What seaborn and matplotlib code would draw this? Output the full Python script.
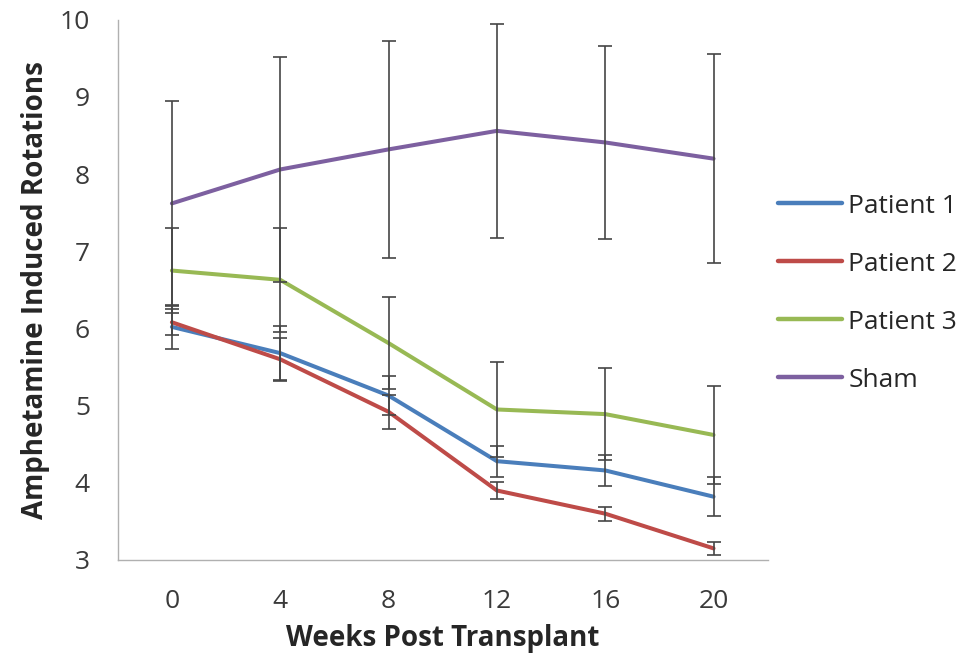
import numpy as np
import pandas as pd
import seaborn as sns
import matplotlib.pyplot as plt
from matplotlib.ticker import FixedLocator

weeks = ["0", "4", "8", "12", "16", "20"]
series = ["Patient 1", "Patient 2", "Patient 3", "Sham"]

patient1 = [6.02, 5.68, 5.13, 4.28, 4.16, 3.82]
patient2 = [6.08, 5.60, 4.92, 3.90, 3.60, 3.15]
patient3 = [6.75, 6.63, 5.81, 4.95, 4.89, 4.62]
sham = [7.62, 8.06, 8.32, 8.56, 8.41, 8.20]

patient1_err = [0.28, 0.35, 0.25, 0.20, 0.20, 0.25]
patient2_err = [0.17, 0.28, 0.22, 0.11, 0.09, 0.08]
patient3_err = [0.55, 0.67, 0.60, 0.61, 0.60, 0.63]
sham_err = [1.33, 1.46, 1.41, 1.39, 1.25, 1.35]

means = [patient1, patient2, patient3, sham]
errs = [patient1_err, patient2_err, patient3_err, sham_err]
colors = ["#4A7EBB", "#BE4B48", "#98B954", "#7D60A0"]

rows = []
for name, vals, ee in zip(series, means, errs):
    for i, (w, v, e) in enumerate(zip(weeks, vals, ee)):
        rows.append({"pos": i, "week": w, "series": name, "value": v, "err": e})
df = pd.DataFrame(rows)

sns.set_style("white")
plt.rcParams["font.family"] = ["Open Sans", "DejaVu Sans"]

fig = plt.figure(figsize=(9.73, 6.58), dpi=100)
ax = fig.add_axes([0.121, 0.149, 0.668, 0.821])

# error bars (thin dark grey with caps)
for name in series:
    sub = df[df["series"] == name]
    ax.errorbar(sub["pos"], sub["value"], yerr=sub["err"], fmt="none",
                ecolor="#454545", elinewidth=1.2, capsize=5, capthick=1.2, zorder=3)

sns.lineplot(data=df, x="pos", y="value", hue="series", hue_order=series,
             palette=colors, linewidth=2.9, ax=ax, zorder=2)

ax.set_xlim(-0.5, 5.5)
ax.set_ylim(3, 10)
ax.set_xticks(range(len(weeks)))
ax.set_xticklabels(weeks)
ax.xaxis.set_minor_locator(FixedLocator(np.arange(-0.5, 6.0, 1.0)))
ax.tick_params(axis="x", which="major", length=0, pad=21, labelsize=19, colors="#3a3a3a")
ax.tick_params(axis="x", which="minor", length=7, width=1, color="#B0B0B0", direction="out")
ax.tick_params(axis="y", length=8, width=1, color="#B0B0B0", direction="out",
               labelsize=19, labelcolor="#3a3a3a", pad=12)
ax.set_yticks(range(3, 11))

for s in ["top", "right"]:
    ax.spines[s].set_visible(False)
for s in ["left", "bottom"]:
    ax.spines[s].set_color("#B0B0B0")
    ax.spines[s].set_linewidth(1)

ax.set_xlabel("Weeks Post Transplant", fontsize=20, fontweight="bold", labelpad=7)
ax.set_ylabel("Amphetamine Induced Rotations", fontsize=20, fontweight="bold", labelpad=7)

leg = ax.legend(loc="center left", bbox_to_anchor=(1.0, 0.494), frameon=False,
                fontsize=19, handlelength=2.4, labelspacing=1.25, handletextpad=0.25,
                borderaxespad=0)
for line in leg.get_lines():
    line.set_linewidth(3.2)

fig.savefig("out.png", dpi=100)
